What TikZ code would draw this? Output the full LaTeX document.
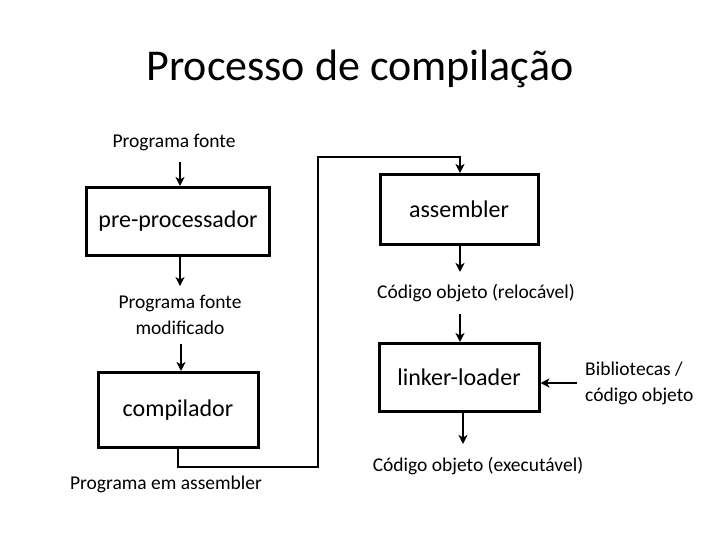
\documentclass[tikz,border=0pt]{standalone}
\usepackage{fontspec}
\setmainfont{Carlito}
\usetikzlibrary{arrows.meta,positioning}

\begin{document}
\begin{tikzpicture}[x=1pt, y=-1pt, >={Stealth[length=9pt,width=9pt,inset=2.5pt]},
  stage/.style={draw, line width=3pt, inner sep=0pt,
    font=\fontsize{24}{28}\selectfont},
  lbl/.style={inner sep=0pt, align=center, font=\fontsize{19.5}{26}\selectfont},
  flow/.style={->, line width=2pt}]
  \useasboundingbox (0,0) rectangle (720,540);

  \node[font=\fontsize{44}{50}\selectfont] (title) at (360,69) {Processo de compilação};

  % left column
  \node[lbl] (pf) at (174,142) {Programa fonte};
  \node[stage, minimum width=183pt, minimum height=68pt] (pre) at (178,221.5) {pre-processador};
  \node[lbl] (pfm) at (180,315) {Programa fonte\\modificado};
  \node[stage, minimum width=160pt, minimum height=75pt] (comp) at (178,410) {compilador};
  \node[lbl] (pasm) at (166,484) {Programa em assembler};

  % right column
  \node[stage, minimum width=158pt, minimum height=70pt] (asm) at (459,209.5) {assembler};
  \node[lbl] (corel) at (476,293) {Código objeto (relocável)};
  \node[stage, minimum width=160pt, minimum height=68pt] (link) at (459,377.5) {linker-loader};
  \node[lbl, align=left, anchor=west] (bib) at (585,383) {Bibliotecas /\\código objeto};
  \node[lbl] (coexe) at (478,466) {Código objeto (executável)};

  \draw[flow, shorten <=11pt] ([xshift=2pt]pf.south -| pre.north) -- ([xshift=2pt]pre.north);
  \draw[flow, shorten >=9pt] ([xshift=2pt]pre.south) -- ([xshift=2pt]pre.south |- pfm.north);
  \draw[flow, shorten <=9pt] ([xshift=3pt]pfm.south -| comp.north) -- ([xshift=3pt]comp.north);

  \coordinate (turn) at (318,157);
  \draw[flow] (comp.south) -- ++(0,18) -| (turn) -| ([xshift=1pt]asm.north);

  \draw[flow, shorten >=12pt] ([xshift=1pt]asm.south) -- ([xshift=1pt]asm.south |- corel.north);
  \draw[flow, shorten <=12pt] ([xshift=1pt]link.north |- corel.south) -- ([xshift=1pt]link.north);
  \draw[flow, shorten <=8pt] (bib.west) -- (link.east |- bib.west);
  \draw[flow, shorten >=13pt] ([xshift=4pt]link.south) -- ([xshift=4pt]link.south |- coexe.north);
\end{tikzpicture}
\end{document}
